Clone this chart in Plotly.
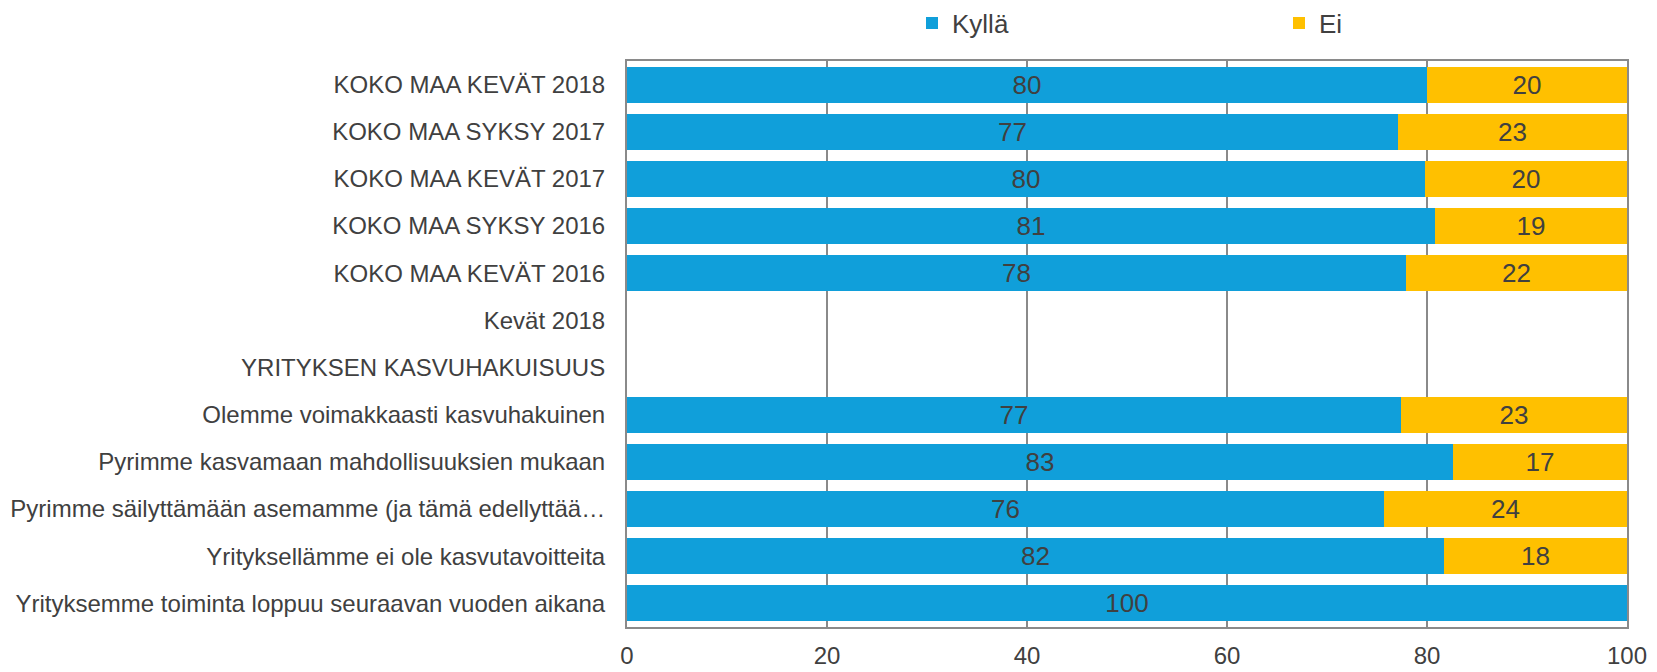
import plotly.graph_objects as go

categories = [
    "KOKO MAA KEVÄT 2018",
    "KOKO MAA SYKSY 2017",
    "KOKO MAA KEVÄT 2017",
    "KOKO MAA SYKSY 2016",
    "KOKO MAA KEVÄT 2016",
    "Kevät 2018",
    "YRITYKSEN KASVUHAKUISUUS",
    "Olemme voimakkaasti kasvuhakuinen",
    "Pyrimme kasvamaan mahdollisuuksien mukaan",
    "Pyrimme säilyttämään asemamme (ja tämä edellyttää…",
    "Yrityksellämme ei ole kasvutavoitteita",
    "Yrityksemme toiminta loppuu seuraavan vuoden aikana",
]
kylla = [80.0, 77.1, 79.8, 80.8, 77.9, None, None, 77.4, 82.6, 75.7, 81.7, 100.0]
ei = [20.0, 22.9, 20.2, 19.2, 22.1, None, None, 22.6, 17.4, 24.3, 18.3, None]
x_ticks = [0, 20, 40, 60, 80, 100]

FONT = "Liberation Sans, Arial, sans-serif"
TXT = "#404040"
BLUE = "#109FDA"
YELLOW = "#FFC000"

fig = go.Figure()
fig.add_trace(go.Bar(
    y=categories, x=kylla, name="Kyllä", orientation="h",
    marker=dict(color=BLUE, line=dict(width=0)),
    texttemplate="%{x:.0f}", textposition="inside", insidetextanchor="middle",
    textangle=0, constraintext="none",
    textfont=dict(family=FONT, size=26, color=TXT),
))
fig.add_trace(go.Bar(
    y=categories, x=ei, name="Ei", orientation="h",
    marker=dict(color=YELLOW, line=dict(width=0)),
    texttemplate="%{x:.0f}", textposition="inside", insidetextanchor="middle",
    textangle=0, constraintext="none",
    textfont=dict(family=FONT, size=26, color=TXT),
))

fig.update_layout(
    barmode="stack",
    bargap=0.235,
    width=1657, height=672,
    margin=dict(l=627, r=30, t=61, b=45, autoexpand=False),
    paper_bgcolor="white", plot_bgcolor="white",
    font=dict(family=FONT, color=TXT, size=24),
    legend=dict(
        orientation="h", x=0.285, xanchor="left", y=1.067, yanchor="middle",
        yref="paper", entrywidth=322, entrywidthmode="pixels",
        font=dict(family=FONT, size=26, color=TXT),
        itemwidth=30, traceorder="normal", bgcolor="rgba(0,0,0,0)",
    ),
    xaxis=dict(
        range=[0, 100], tickvals=x_ticks, ticktext=[str(v) for v in x_ticks],
        showgrid=True, gridcolor="#8a8a8a", gridwidth=1.5,
        showline=True, linecolor="#8a8a8a", linewidth=2, mirror=True,
        zeroline=False, ticks="", ticklabelstandoff=6,
        tickfont=dict(family=FONT, size=24, color=TXT),
    ),
    yaxis=dict(
        autorange="reversed", showgrid=False,
        showline=True, linecolor="#8a8a8a", linewidth=2, mirror=True,
        ticks="", ticklabelstandoff=15,
        tickfont=dict(family=FONT, size=24, color=TXT),
    ),
)

fig.write_html(
    "out.html",
    config={"displayModeBar": False},
    post_script="document.body.style.margin='0';document.body.style.overflow='hidden';",
)
